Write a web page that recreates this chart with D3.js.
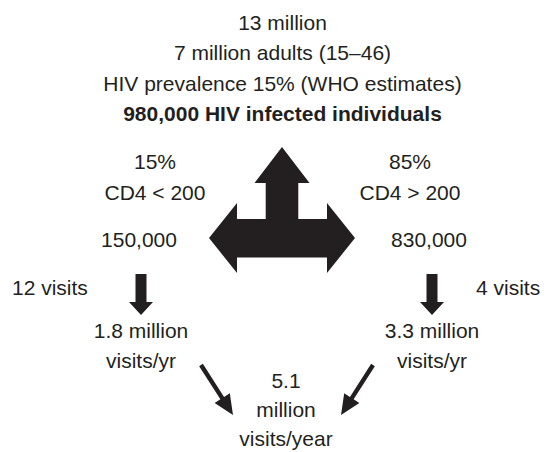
<!DOCTYPE html>
<html>
<head>
<meta charset="utf-8">
<script src="https://cdn.jsdelivr.net/npm/d3@7"></script>
<style>
  html, body { margin: 0; padding: 0; background: #fff; }
  svg text { font-family: "Liberation Sans", Arial, sans-serif; fill: #231f20; }
</style>
</head>
<body>
<svg id="chart" width="553" height="452"></svg>
<script>
// ── labels of the flow diagram ──
const headerLines = ['13 million', '7 million adults (15\u201346)', 'HIV prevalence 15% (WHO estimates)', '980,000 HIV infected individuals'];
const groupShare  = ['15%', '85%'];
const groupCD4    = ['CD4 < 200', 'CD4 > 200'];
const groupCount  = ['150,000', '830,000'];
const groupVisits = ['12 visits', '4 visits'];
const groupTotals = [['1.8 million', 'visits/yr'], ['3.3 million', 'visits/yr']];
const totalLines  = ['5.1', 'million', 'visits/year'];

const svg = d3.select('#chart');
const ink = '#231f20';
const FS = 21;

function lines(arr, x, y0, dy, opts = {}) {
  arr.forEach((t, i) => {
    svg.append('text')
      .attr('x', x).attr('y', y0 + i * dy)
      .attr('text-anchor', opts.anchor || 'middle')
      .attr('font-size', FS)
      .attr('font-weight', opts.bold && i === arr.length - 1 ? 'bold' : null)
      .text(t);
  });
}

// header block
lines(headerLines, 282.5, 29.5, 30.5, { bold: true });

// big three-way arrow
const cx = 282, cy = 238;
const bigArrow = d3.path();
bigArrow.moveTo(cx, 147);          // up tip
bigArrow.lineTo(cx + 27.5, 183);
bigArrow.lineTo(cx + 16.3, 183);
bigArrow.lineTo(cx + 16.3, cy - 19);
bigArrow.lineTo(cx + 45, cy - 19);
bigArrow.lineTo(cx + 45, cy - 35);
bigArrow.lineTo(cx + 73, cy);      // right tip
bigArrow.lineTo(cx + 45, cy + 35);
bigArrow.lineTo(cx + 45, cy + 19.5);
bigArrow.lineTo(cx - 45, cy + 19.5);
bigArrow.lineTo(cx - 45, cy + 35);
bigArrow.lineTo(cx - 73, cy);      // left tip
bigArrow.lineTo(cx - 45, cy - 35);
bigArrow.lineTo(cx - 45, cy - 19);
bigArrow.lineTo(cx - 16.3, cy - 19);
bigArrow.lineTo(cx - 16.3, 183);
bigArrow.lineTo(cx - 27.5, 183);
bigArrow.closePath();
svg.append('path').attr('d', bigArrow.toString()).attr('fill', ink);

// side groups
const sides = [
  { textX: 155, countX: 139, arrowX: 141, visitsX: 12, visitsAnchor: 'start' },
  { textX: 410, countX: 429, arrowX: 432, visitsX: 476, visitsAnchor: 'start' }
];
sides.forEach((s, i) => {
  lines([groupShare[i], groupCD4[i]], s.textX, 169, 31);
  lines([groupCount[i]], s.countX, 246.5, 0);
  lines([groupVisits[i]], s.visitsX, 295, 0, { anchor: s.visitsAnchor });

  // small down arrow
  const p = d3.path();
  p.moveTo(s.arrowX - 5.5, 274);
  p.lineTo(s.arrowX + 5.5, 274);
  p.lineTo(s.arrowX + 5.5, 302);
  p.lineTo(s.arrowX + 12, 302);
  p.lineTo(s.arrowX, 315);
  p.lineTo(s.arrowX - 12, 302);
  p.lineTo(s.arrowX - 5.5, 302);
  p.closePath();
  svg.append('path').attr('d', p.toString()).attr('fill', ink);

  lines(groupTotals[i], s.arrowX, 338, 30);
});

// diagonal arrows to the total
function diagArrow(x1, y1, x2, y2) {
  const ang = Math.atan2(y2 - y1, x2 - x1);
  const headLen = 20, headHalf = 9, shaftHalf = 2.2;
  const ux = Math.cos(ang), uy = Math.sin(ang);
  const nx = -uy, ny = ux;
  const bx = x2 - ux * headLen, by = y2 - uy * headLen;
  const p = d3.path();
  p.moveTo(x1 + nx * shaftHalf, y1 + ny * shaftHalf);
  p.lineTo(bx + nx * shaftHalf, by + ny * shaftHalf);
  p.lineTo(bx + nx * headHalf, by + ny * headHalf);
  p.lineTo(x2, y2);
  p.lineTo(bx - nx * headHalf, by - ny * headHalf);
  p.lineTo(bx - nx * shaftHalf, by - ny * shaftHalf);
  p.lineTo(x1 - nx * shaftHalf, y1 - ny * shaftHalf);
  p.closePath();
  svg.append('path').attr('d', p.toString()).attr('fill', ink);
}
diagArrow(201, 365, 233, 415);
diagArrow(373, 365, 341, 415);

lines(totalLines, 286, 388, 29);
</script>
</body>
</html>
